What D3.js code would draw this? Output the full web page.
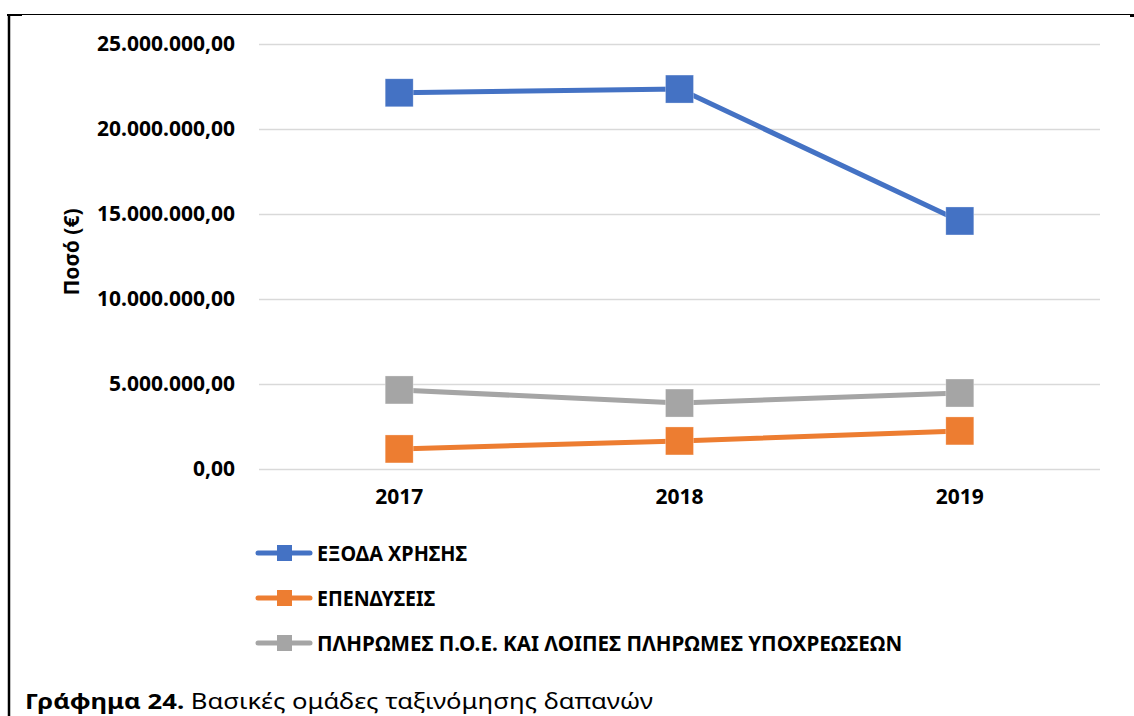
<!DOCTYPE html>
<html><head><meta charset="utf-8">
<script src="https://cdn.jsdelivr.net/npm/d3@7"></script>
<style>
html,body{margin:0;padding:0;background:#fff;}
svg{display:block;}
text{font-family:"Noto Sans","Open Sans",sans-serif;}
</style></head>
<body><svg id="chart" width="1134" height="716"></svg>
<script>
const categories = ["2017","2018","2019"];
const seriesNames = ["ΕΞΟΔΑ ΧΡΗΣΗΣ","ΕΠΕΝΔΥΣΕΙΣ","ΠΛΗΡΩΜΕΣ Π.Ο.Ε. ΚΑΙ ΛΟΙΠΕΣ ΠΛΗΡΩΜΕΣ ΥΠΟΧΡΕΩΣΕΩΝ"];
const exodaXrisis = [22130000, 22350000, 14590000];
const ependyseis = [1180000, 1650000, 2240000];
const pliromes = [4650000, 3880000, 4470000];
const yTicks = [0, 5000000, 10000000, 15000000, 20000000, 25000000];
const colors = ["#4472C4","#ED7D31","#A5A5A5"];
const yTitle = "Ποσό (€)";
const captionBold = "Γράφημα 24.";
const captionText = " Βασικές ομάδες ταξινόμησης δαπανών";

const series = [exodaXrisis, ependyseis, pliromes].map((v,i)=>({name:seriesNames[i], values:v, color:colors[i]}));

const svg = d3.select("#chart");
const pLeft=259, pRight=1100, pTop=44, pBottom=469;

const x = d3.scaleBand().domain(categories).range([pLeft,pRight]);
const y = d3.scaleLinear().domain([0,25000000]).range([pBottom,pTop]);
const loc = d3.formatLocale({decimal:",", thousands:".", grouping:[3], currency:["","€"]});
const fmt = loc.format(",.2f");

// frame
svg.append("line").attr("x1",7).attr("x2",1133).attr("y1",14.5).attr("y2",14.5).attr("stroke","#000").attr("stroke-width",1.2);
svg.append("line").attr("x1",9).attr("x2",9).attr("y1",14).attr("y2",716).attr("stroke","#000").attr("stroke-width",2.5);
svg.append("rect").attr("x",7).attr("y",14).attr("width",15).attr("height",2).attr("fill","#000");
svg.append("rect").attr("x",1130).attr("y",14).attr("width",4).attr("height",3).attr("fill","#000");

// y axis with gridlines
const yAxis = svg.append("g").attr("transform",`translate(${pLeft},0)`)
  .call(d3.axisLeft(y).tickValues(yTicks).tickFormat(fmt).tickSize(-(pRight-pLeft)).tickPadding(24));
yAxis.select(".domain").remove();
yAxis.selectAll(".tick line").attr("stroke","#D9D9D9").attr("stroke-width",1.5);
yAxis.selectAll(".tick text").attr("font-size",21).attr("font-weight","bold").attr("fill","#000")
  .attr("font-family",'"Noto Sans",sans-serif');

// x axis labels
const xAxis = svg.append("g").attr("transform",`translate(0,${pBottom})`)
  .call(d3.axisBottom(x).tickSize(0).tickPadding(20));
xAxis.select(".domain").remove();
xAxis.selectAll(".tick text").attr("font-size",21).attr("font-weight","bold").attr("fill","#000")
  .attr("font-family",'"Noto Sans",sans-serif');

// y title
svg.append("text").attr("transform",`translate(79,252) rotate(-90)`)
  .attr("text-anchor","middle").attr("font-size",21).attr("font-weight","bold").text(yTitle);

// lines
const line = d3.line().x((d,i)=>x(categories[i])+x.bandwidth()/2).y(d=>y(d));
const ms = 28;
series.forEach(s=>{
  svg.append("path").datum(s.values).attr("d",line).attr("fill","none")
    .attr("stroke",s.color).attr("stroke-width",5).attr("stroke-linejoin","round");
  svg.selectAll(null).data(s.values).enter().append("rect")
    .attr("x",(d,i)=>x(categories[i])+x.bandwidth()/2-ms/2)
    .attr("y",d=>y(d)-ms/2).attr("width",ms).attr("height",ms)
    .attr("fill",s.color).attr("stroke","#fff").attr("stroke-opacity",0.5).attr("stroke-width",0.6);
});

// legend
const legY = [553, 598, 643];
const legTargets = [150,118,585];
series.forEach((s,i)=>{
  const g = svg.append("g").attr("transform",`translate(256,${legY[i]})`);
  g.append("line").attr("x1",2).attr("x2",54).attr("y1",0).attr("y2",0).attr("stroke",s.color).attr("stroke-width",5).attr("stroke-linecap","round");
  g.append("rect").attr("x",21).attr("y",-8).attr("width",15).attr("height",16).attr("fill",s.color);
  g.append("text").attr("x",61).attr("y",0).attr("dy","0.36em").attr("font-size",21).attr("font-weight","bold").attr("fill","#000")
    .attr("textLength",legTargets[i]).attr("lengthAdjust","spacingAndGlyphs").text(s.name);
});

// caption
const cap = svg.append("text").attr("x",25).attr("y",709).attr("font-size",22).attr("fill","#000")
  .attr("textLength",628).attr("lengthAdjust","spacingAndGlyphs");
cap.append("tspan").attr("font-weight","bold").text(captionBold);
cap.append("tspan").attr("font-weight","normal").text(captionText);
</script></body></html>
